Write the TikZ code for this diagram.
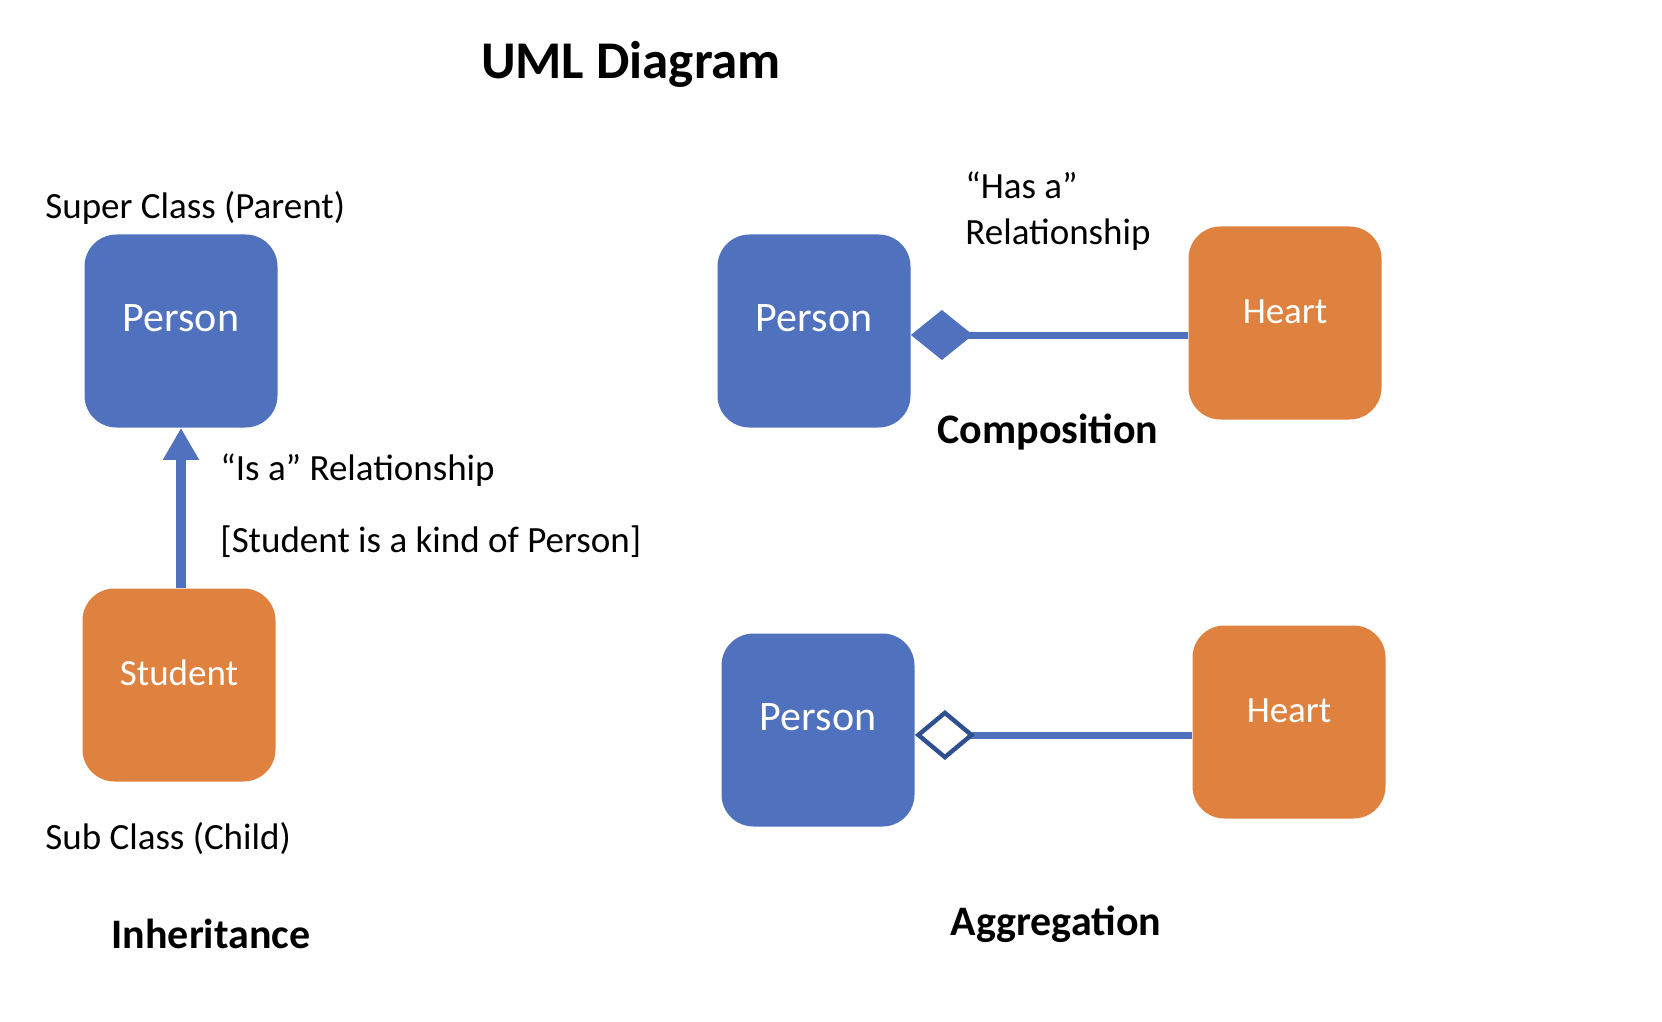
\documentclass[tikz,border=0pt]{standalone}
\usepackage{fontspec}
\setmainfont{Carlito}
\usetikzlibrary{arrows.meta}
\definecolor{umlblue}{HTML}{4F71BE}
\definecolor{umlorange}{HTML}{E0823F}
\definecolor{umldark}{HTML}{2F5090}
\tikzset{
	classbox/.style={rounded corners=16pt, minimum width=96.5pt, minimum height=96.5pt,
		inner sep=0pt, text=white, text height=12pt, text depth=12pt},
	parentbox/.style={classbox, fill=umlblue, font=\fontsize{21}{25}\selectfont},
	childbox/.style={classbox, fill=umlorange, font=\fontsize{18.5}{22}\selectfont},
	note/.style={anchor=west, inner sep=0pt, font=\fontsize{18.5}{22}\selectfont},
	heading/.style={inner sep=0pt, font=\fontsize{21}{25}\selectfont\bfseries},
	isa/.style={umlblue, line width=5pt, -{Triangle[width=17pt,length=16pt]}},
	hasa/.style={umlblue, line width=3.5pt, {Diamond[width=25pt,length=31pt]}-},
	partof/.style={umlblue, line width=3.5pt, {Diamond[open,width=25pt,length=30pt,color=umldark,line width=2.2pt]}-}
}
\begin{document}
\begin{tikzpicture}[x=0.5pt, y=-0.5pt]
	\useasboundingbox (0, 0) rectangle (1662, 1022);
		\node (title) [heading, font=\fontsize{26.5}{31}\selectfont\bfseries] at (631, 64) {UML Diagram};
		% inheritance
		\node (superlbl) [note] at (45, 208) {Super Class (Parent)};
		\node (person1) [parentbox] at (181, 331) {Person};
		\node (student) [childbox] at (179, 685) {Student};
		\draw[isa] (person1.south |- student.north) -- (person1.south);
		\node (isalbl) [note] at (220, 470) {“Is a” Relationship};
		\node (kindlbl) [note] at (220, 542) {[Student is a kind of Person]};
		\node (sublbl) [note] at (45, 839) {Sub Class (Child)};
		\node (inherit) [heading] at (211, 934) {Inheritance};
		% composition
		\node (person2) [parentbox] at (814, 331) {Person};
		\node (heart1) [childbox] at (1285, 323) {Heart};
		\draw[hasa] ([yshift=-2pt]person2.east) -- ([yshift=-2pt]person2.east -| heart1.west);
		\node (hasalbl) [note] at (965, 185) {“Has a”};
		\node (rellbl) [note] at (965, 235) {Relationship};
		\node (compo) [heading] at (1048, 432) {Composition};
		% aggregation
		\node (person3) [parentbox] at (818, 730) {Person};
		\node (heart2) [childbox] at (1289, 722) {Heart};
		\draw[partof] ([yshift=-2.5pt]person3.east) -- ([yshift=-2.5pt]person3.east -| heart2.west);
		\node (aggr) [heading] at (1056, 924) {Aggregation};
	\end{tikzpicture}
\end{document}
